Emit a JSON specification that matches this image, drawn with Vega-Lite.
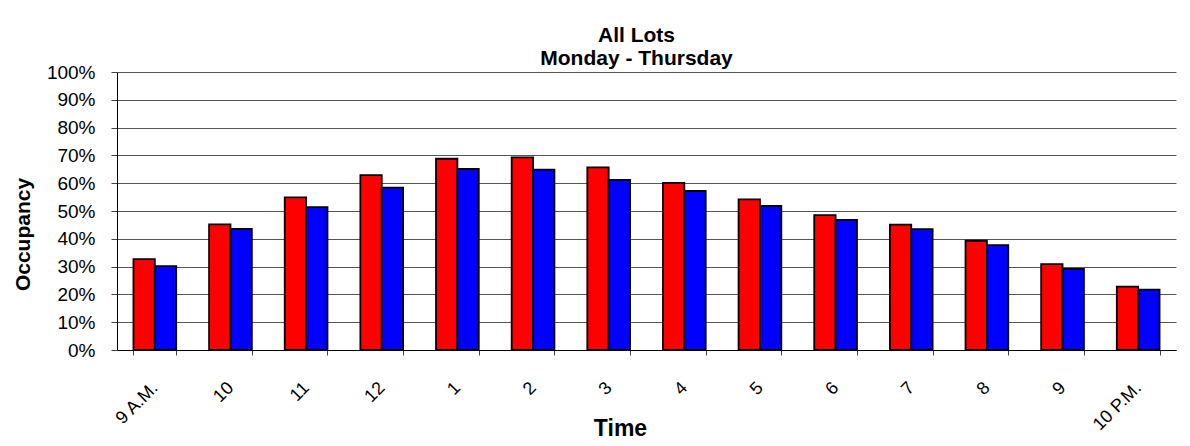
{
  "$schema": "https://vega.github.io/schema/vega-lite/v6.json",
  "width": 1059,
  "height": 278,
  "autosize": {"type": "none"},
  "padding": {"left": 117, "top": 72, "right": 14, "bottom": 96},
  "background": "white",
  "title": {
    "text": ["All Lots", "Monday - Thursday"],
    "font": "Liberation Sans",
    "fontSize": 21,
    "fontWeight": "bold",
    "color": "black",
    "lineHeight": 23,
    "anchor": "middle",
    "baseline": "bottom",
    "offset": 8,
    "dx": -10,
    "dy": 35
  },
  "data": {
    "values": [
      {"time": "9 A.M.", "series": "Series 1", "occupancy": 0.327},
      {"time": "9 A.M.", "series": "Series 2", "occupancy": 0.302},
      {"time": "10", "series": "Series 1", "occupancy": 0.452},
      {"time": "10", "series": "Series 2", "occupancy": 0.436},
      {"time": "11", "series": "Series 1", "occupancy": 0.549},
      {"time": "11", "series": "Series 2", "occupancy": 0.514},
      {"time": "12", "series": "Series 1", "occupancy": 0.629},
      {"time": "12", "series": "Series 2", "occupancy": 0.584},
      {"time": "1", "series": "Series 1", "occupancy": 0.688},
      {"time": "1", "series": "Series 2", "occupancy": 0.651},
      {"time": "2", "series": "Series 1", "occupancy": 0.693},
      {"time": "2", "series": "Series 2", "occupancy": 0.649},
      {"time": "3", "series": "Series 1", "occupancy": 0.657},
      {"time": "3", "series": "Series 2", "occupancy": 0.612},
      {"time": "4", "series": "Series 1", "occupancy": 0.601},
      {"time": "4", "series": "Series 2", "occupancy": 0.572},
      {"time": "5", "series": "Series 1", "occupancy": 0.542},
      {"time": "5", "series": "Series 2", "occupancy": 0.518},
      {"time": "6", "series": "Series 1", "occupancy": 0.485},
      {"time": "6", "series": "Series 2", "occupancy": 0.468},
      {"time": "7", "series": "Series 1", "occupancy": 0.451},
      {"time": "7", "series": "Series 2", "occupancy": 0.435},
      {"time": "8", "series": "Series 1", "occupancy": 0.393},
      {"time": "8", "series": "Series 2", "occupancy": 0.377},
      {"time": "9", "series": "Series 1", "occupancy": 0.309},
      {"time": "9", "series": "Series 2", "occupancy": 0.292},
      {"time": "10 P.M.", "series": "Series 1", "occupancy": 0.228},
      {"time": "10 P.M.", "series": "Series 2", "occupancy": 0.217}
    ]
  },
  "mark": {"type": "bar", "stroke": "black", "strokeWidth": 1.8},
  "encoding": {
    "x": {
      "field": "time",
      "type": "nominal",
      "sort": null,
      "scale": {"paddingInner": 0.435, "paddingOuter": 0.2175},
      "axis": {
        "title": "Time",
        "titleFont": "Liberation Sans",
        "titleFontSize": 23,
        "titleFontWeight": "bold",
        "titleColor": "black",
        "titleX": 503,
        "titleY": 85,
        "titleBaseline": "alphabetic",
        "labelAngle": -45,
        "labelAlign": "right",
        "labelBaseline": "middle",
        "labelPadding": 30,
        "labelFont": "Liberation Sans",
        "labelFontSize": 18,
        "labelColor": "black",
        "tickBand": "extent",
        "tickSize": 5,
        "tickColor": "#444444",
        "domainColor": "black",
        "domainWidth": 1,
        "grid": false
      }
    },
    "xOffset": {"field": "series", "type": "nominal", "scale": {"paddingInner": 0, "paddingOuter": 0}},
    "y": {
      "field": "occupancy",
      "type": "quantitative",
      "scale": {"domain": [0, 1], "nice": false},
      "axis": {
        "title": "Occupancy",
        "titleFont": "Liberation Sans",
        "titleFontSize": 21,
        "titleFontWeight": "bold",
        "titleColor": "black",
        "titleX": -84,
        "titleY": 162,
        "format": ".0%",
        "values": [0, 0.1, 0.2, 0.3, 0.4, 0.5, 0.6, 0.7, 0.8, 0.9, 1],
        "labelFont": "Liberation Sans",
        "labelFontSize": 19,
        "labelColor": "black",
        "labelPadding": 16,
        "tickSize": 6,
        "tickColor": "#444444",
        "domainColor": "black",
        "domainWidth": 1,
        "grid": true,
        "gridColor": "#555555",
        "gridWidth": 1,
        "gridOpacity": 1
      }
    },
    "color": {
      "field": "series",
      "type": "nominal",
      "scale": {"domain": ["Series 1", "Series 2"], "range": ["#FF0000", "#0000FF"]},
      "legend": null
    }
  },
  "config": {
    "view": {"stroke": null},
    "font": "Liberation Sans"
  }
}
